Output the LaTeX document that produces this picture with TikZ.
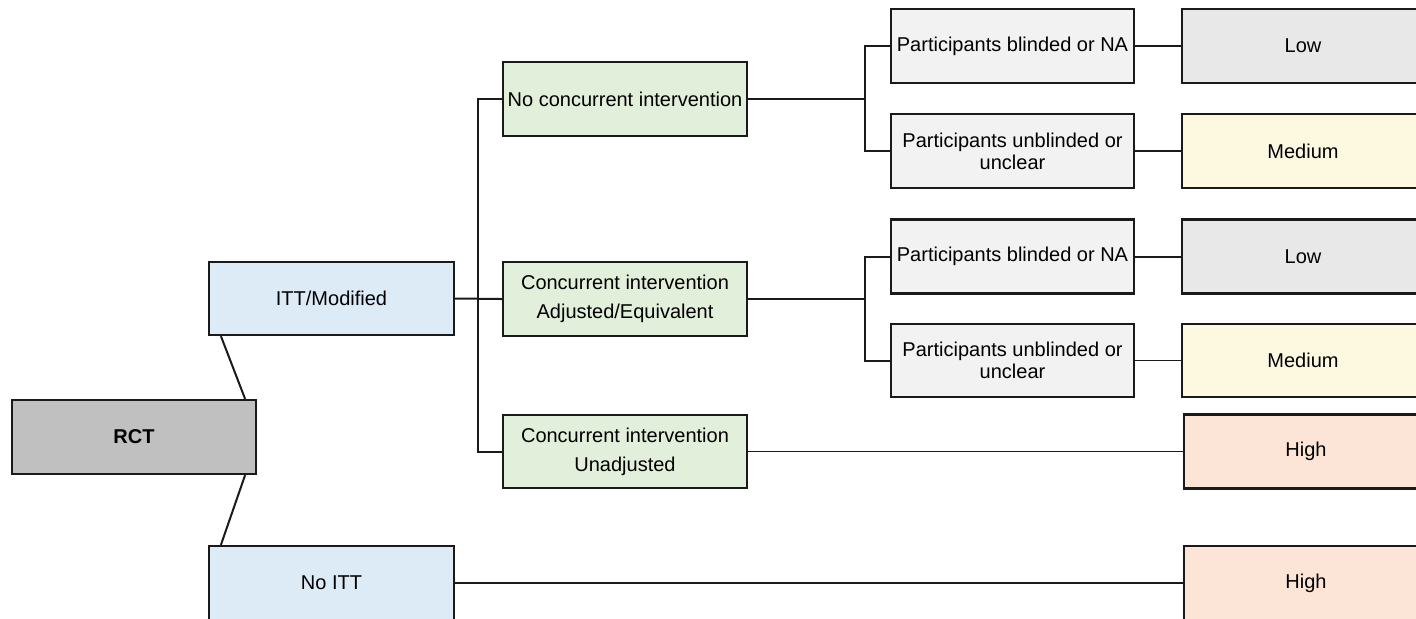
\documentclass[tikz,border=0pt]{standalone}
\usepackage{fontspec}
\setmainfont{Liberation Sans}
\definecolor{rctgray}{HTML}{C0C0C0}
\definecolor{ittblue}{HTML}{DDEBF7}
\definecolor{concgreen}{HTML}{E2EFDA}
\definecolor{partgray}{HTML}{F2F2F2}
\definecolor{lowgray}{HTML}{E8E8E8}
\definecolor{medyellow}{HTML}{FDF9E0}
\definecolor{highpeach}{HTML}{FCE4D6}
\definecolor{edge}{HTML}{1A1A1A}
\tikzset{
  box/.style={draw=edge, line width=1.1pt, rectangle, align=center,
    font=\fontsize{10pt}{11pt}\selectfont, inner sep=2pt},
  rowbox/.style={box, minimum width=122pt, minimum height=37pt},
  levelbox/.style={box, minimum width=122pt, minimum height=37pt},
  greenbox/.style={rowbox, fill=concgreen, font=\fontsize{10pt}{14.5pt}\selectfont},
  partbox/.style={rowbox, fill=partgray, minimum width=121.5pt},
  link/.style={draw=edge, line width=1pt},
  thinlink/.style={draw=edge, line width=0.8pt}
}
\begin{document}
\begin{tikzpicture}[x=0.5pt, y=-0.5pt]
  \useasboundingbox (0,0) rectangle (1416,618);
  \clip (0,0) rectangle (1416,618);

  % root and first split
  \node[rowbox, fill=rctgray, font=\fontsize{10pt}{11pt}\selectfont\bfseries] (rct) at (134,437) {RCT};
  \node[rowbox, fill=ittblue, minimum width=122.5pt, minimum height=36.5pt] (itt) at (331.5,298.5) {ITT/Modified};
  \node[rowbox, fill=ittblue, minimum width=122.5pt] (noitt) at (331.5,583) {No ITT};

  % concurrent intervention
  \node[greenbox] (nc) at (625,99) {No concurrent intervention};
  \node[greenbox] (ca) at (625,299) {Concurrent intervention\\Adjusted/Equivalent};
  \node[greenbox, minimum height=36.5pt] (cu) at (625,451.5) {Concurrent intervention\\Unadjusted};

  % blinding
  \node[partbox] (p1) at (1012.5,46) {Participants blinded or NA};
  \node[partbox] (p2) at (1012.5,151) {Participants unblinded or\\unclear};
  \node[partbox] (p3) at (1012.5,256.5) {Participants blinded or NA};
  \node[partbox, minimum height=36.5pt] (p4) at (1012.5,360.5) {Participants unblinded or\\unclear};

  % risk levels
  \node[levelbox, fill=lowgray, minimum width=121pt] (low1) at (1303,46) {Low};
  \node[levelbox, fill=medyellow, minimum width=121pt] (med1) at (1303,151) {Medium};
  \node[levelbox, fill=lowgray, minimum width=121pt] (low2) at (1303,256.5) {Low};
  \node[levelbox, fill=medyellow, minimum width=121pt, minimum height=36.5pt] (med2) at (1303,360.5) {Medium};
  \node[levelbox, fill=highpeach] (high1) at (1306,451.5) {High};
  \node[levelbox, fill=highpeach] (high2) at (1306,583) {High};

  % root links
  \draw[link] ([xshift=6.5pt]itt.south west) -- ([xshift=-6pt]rct.north east);
  \draw[link] ([xshift=-6pt]rct.south east) -- ([xshift=6.5pt]noitt.north west);

  % trunk to the concurrent-intervention boxes
  \coordinate (trunk) at (478,298.5);
  \draw[link] (itt.east) -- (ca.west);
  \draw[link] (nc.west) -| (trunk) |- (cu.west);

  % blinding branches
  \coordinate (b1) at (865,99);
  \coordinate (b2) at (865,299);
  \draw[link] (nc.east) -- (b1);
  \draw[link] (p1.west) -| (b1) |- (p2.west);
  \draw[link] (ca.east) -- (b2);
  \draw[link] (p3.west) -| (b2) |- (p4.west);

  % to risk levels
  \draw[thinlink] (p1.east) -- (low1.west);
  \draw[thinlink] (p2.east) -- (med1.west);
  \draw[link] (p3.east) -- (low2.west);
  \draw[thinlink] (p4.east) -- (med2.west);
  \draw[thinlink] (cu.east) -- (high1.west);
  \draw[thinlink] (noitt.east) -- (high2.west);
\end{tikzpicture}
\end{document}
